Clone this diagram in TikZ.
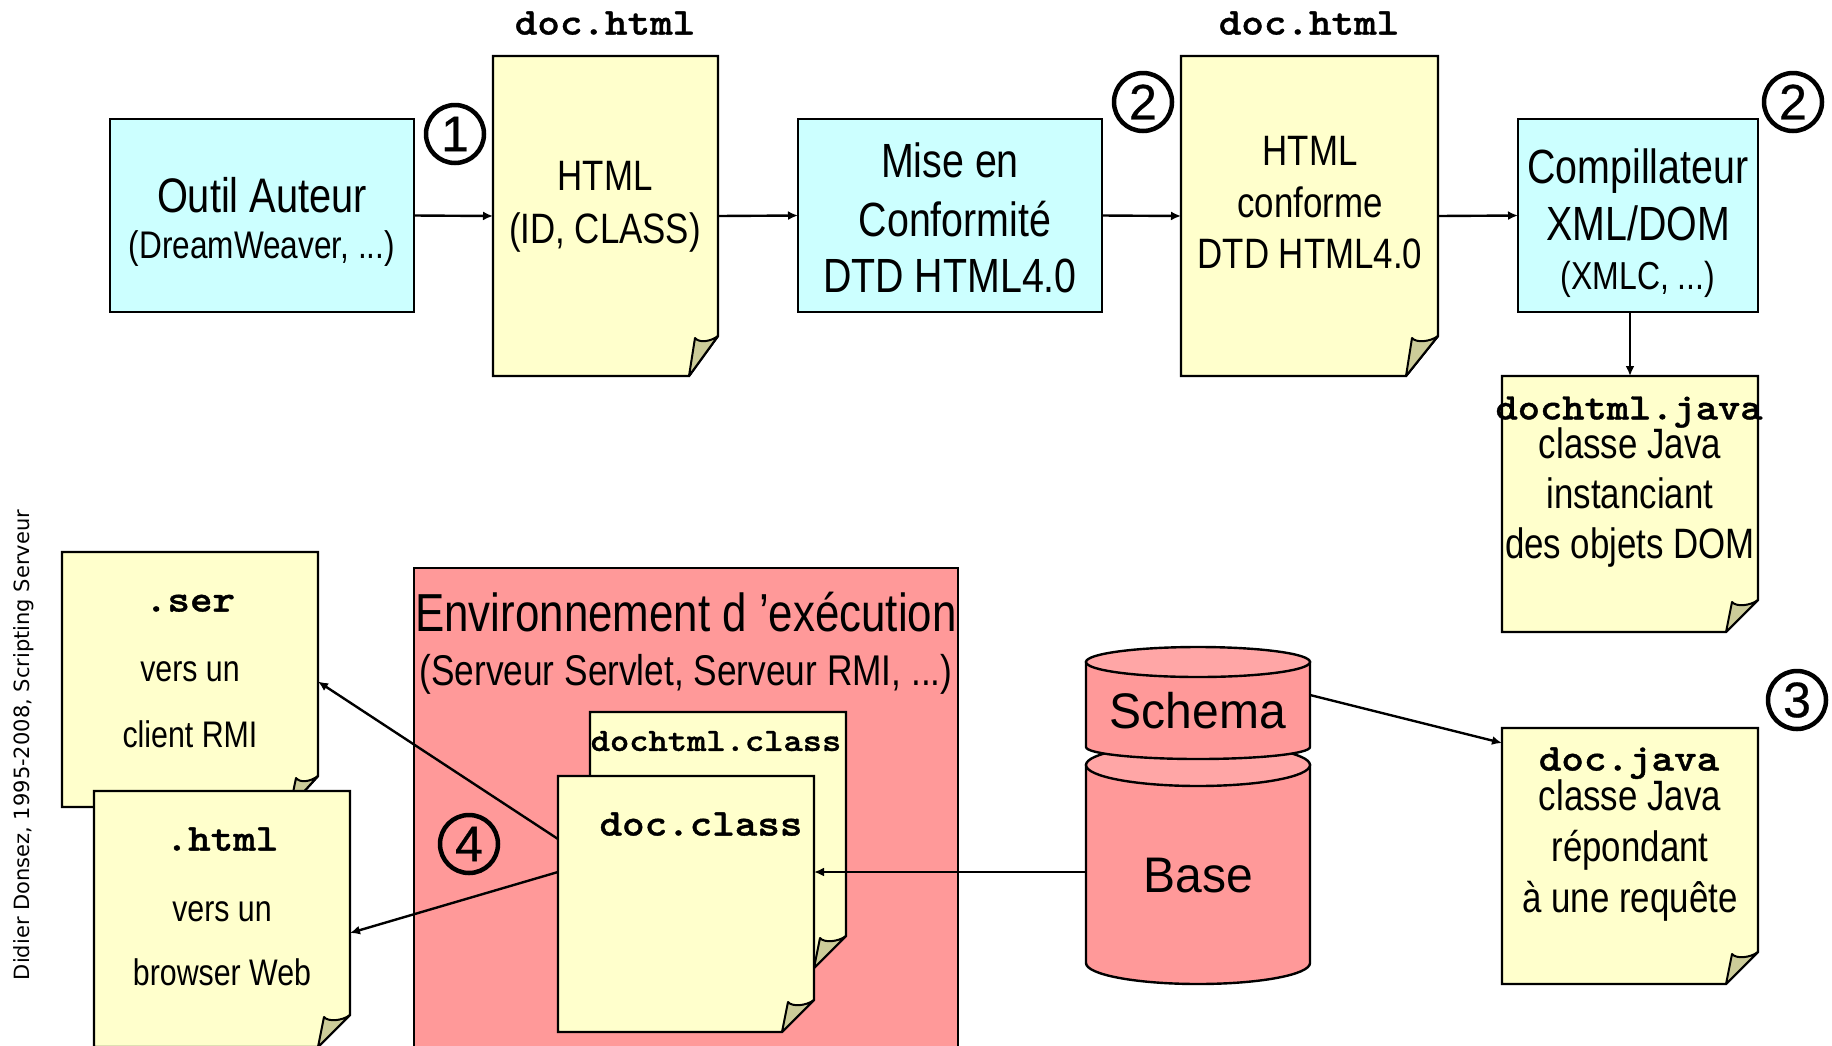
\documentclass[tikz,border=0pt]{standalone}
\usepackage{fontspec}
\setmainfont{Liberation Sans}
\newfontfamily\cf[FakeStretch=0.82]{Liberation Sans}
\newfontfamily\wf[FakeStretch=0.96]{Liberation Sans}
\newfontfamily\nf[FakeBold=0.6]{Liberation Sans}
\newfontfamily\vf{DejaVu Sans}
\newfontfamily\mf[FakeStretch=1.13,FakeBold=1]{Latin Modern Mono Light}
\usetikzlibrary{arrows.meta,fit}
\definecolor{cyanbox}{HTML}{CCFFFF}
\definecolor{yelbox}{HTML}{FFFFCC}
\definecolor{redbox}{HTML}{FF9999}
\definecolor{redtop}{HTML}{FFA6A6}
\definecolor{foldc}{HTML}{CCCC99}
\tikzset{
  outl/.style={draw=black,line width=2.4pt,line join=miter},
  anchorbox/.style={inner sep=0pt,outer sep=0pt},
  arr/.style={draw=black,line width=2.4pt,-{Latex[length=10pt,width=9pt]}},
  lab/.style={inner sep=0pt,outer sep=0pt,anchor=center,align=center},
  num/.style={circle,draw=black,line width=4.5pt,inner sep=0pt,minimum size=58pt,outer sep=0pt}
}
\newcommand{\cbox}[6]{% name x1 y1 x2 y2 color
  \path[outl,fill=#6] (#2,#3) rectangle (#4,#5);
  \node[anchorbox,fit={(#2,#3) (#4,#5)}] (#1) {};}
\newcommand{\docn}[7]{% name x1 y1 x2 y2 fw fh
  \path[outl,fill=yelbox] (#2,#3) -- (#4,#3) -- (#4,#5-#7) -- (#4-#6,#5) -- (#2,#5) -- cycle;
  \path[outl,line width=2pt,line join=round,fill=foldc] (#4-#6,#5) -- (#4-#6+6,#5-#7+2)
     .. controls (#4-#6+10,#5-#7+7) and (#4-8,#5-#7+6) .. (#4,#5-#7) -- cycle;
  \node[anchorbox,fit={(#2,#3) (#4,#5)}] (#1) {};}
\newcommand{\lbl}[5]{% name x y size text
  \node[lab,yshift={-0.09*#4 pt}] (#1) at (#2,#3) {\fontsize{#4}{#4}\selectfont\cf\vphantom{(Ag}#5};}
\newcommand{\slbl}[5]{% name x y size text
  \node[lab,yshift={-0.1*#4 pt}] (#1) at (#2,#3) {\fontsize{#4}{#4}\selectfont\wf\vphantom{(Ag}#5};}
\newcommand{\mlbl}[5]{% name x y size text
  \node[lab,yshift={-0.07*#4 pt}] (#1) at (#2,#3) {\fontsize{#4}{#4}\selectfont\mf\bfseries\vphantom{(Ag}#5};}
\newcommand{\cyl}[7]{% name x1 x2 ytop ybot rytop rybot
  \path[outl,fill=redbox] (#2,#4) -- (#2,#5-#7) arc[start angle=180,end angle=360,x radius={(#3-#2)/2},y radius=-#7] -- (#3,#4) -- cycle;
  \path[outl,fill=redtop] ({(#2+#3)/2},#4) ellipse[x radius={(#3-#2)/2},y radius=#6];
}
\begin{document}
\begin{tikzpicture}[x=1pt,y=-1pt]
\useasboundingbox (0,0) rectangle (1832,1045);
\clip (0,0) rectangle (1832,1045);
% top row
\cbox{outil}{110}{119}{414}{312}{cyanbox}
\docn{html}{493}{56}{718}{376}{29}{40}
\cbox{mise}{798}{119}{1102}{312}{cyanbox}
\docn{conf}{1181}{56}{1438}{376}{32}{40}
\cbox{compil}{1518}{119}{1758}{312}{cyanbox}
\docn{dochtmljava}{1502}{376}{1758}{632}{32}{32}
\docn{docjava}{1502}{728}{1758}{984}{32}{32}
% lower left
\docn{ser}{62}{552}{318}{807}{28}{31}
\docn{htmlout}{94}{791}{350}{1047}{32}{32}
% environment
\cbox{env}{414}{568}{958}{1070}{redbox}
\docn{dochtmlclass}{590}{712}{846}{968}{32}{32}
\docn{docclass}{558}{776}{814}{1032}{32}{32}
% cylinders
\cyl{base}{1086}{1310}{765}{984}{21}{21}
\node[anchorbox,fit={(1086,760) (1310,984)}] (basen) {};
\cyl{schema}{1086}{1310}{662}{759}{15}{12}
\node[anchorbox,fit={(1086,647) (1310,759)}] (schemn) {};
% connectors
\draw[arr] (outil.east) -- (html.west);
\draw[arr] (html.east) -- (mise.west);
\draw[arr] (mise.east) -- (conf.west);
\draw[arr] (conf.east) -- (compil.west);
\draw[arr] (dochtmljava.north |- compil.south) -- (dochtmljava.north);
\draw[arr] (basen.west) -- (docclass.east |- basen.west);
\draw[arr] ([yshift=8pt]schemn.east) -- ([xshift=0pt,yshift=-15pt]docjava.north west);
\draw[arr] ([yshift=65pt]docclass.west) -- ([yshift=-2pt]ser.east);
\draw[arr] ([yshift=32pt]docclass.west) -- ([yshift=-14pt]htmlout.east);
% labels
\lbl{t1}{262}{196}{48.5}{Outil Auteur}
\lbl{t2}{262}{245}{38.5}{(DreamWeaver, ...)}
\mlbl{m1}{605}{23}{38}{doc.html}
\mlbl{m2}{1309}{23}{38}{doc.html}
\lbl{t3}{605}{176}{42.5}{HTML}
\lbl{t4}{605}{229}{42.5}{(ID, CLASS)}
\lbl{t5}{950}{161}{48}{Mise en}
\lbl{t6}{955}{219}{48}{Conformité}
\lbl{t7}{950}{276}{48}{DTD HTML4.0}
\lbl{t8}{1310}{151}{42.5}{HTML}
\lbl{t9}{1310}{203}{42.5}{conforme}
\lbl{t10}{1310}{254}{42.5}{DTD HTML4.0}
\lbl{t11}{1638}{167}{48}{Compillateur}
\lbl{t12}{1638}{224}{48}{XML/DOM}
\lbl{t13}{1638}{276}{39}{(XMLC, ...)}
\mlbl{m3}{1629}{408}{37.5}{dochtml.java}
\lbl{t14}{1630}{444}{42.5}{classe Java}
\lbl{t15}{1630}{494}{42.5}{instanciant}
\lbl{t16}{1630}{544}{42.5}{des objets DOM}
\mlbl{m4}{1629}{759}{38}{doc.java}
\lbl{t17}{1630}{796}{42.5}{classe Java}
\lbl{t18}{1630}{846}{42.5}{répondant}
\lbl{t19}{1630}{897}{42.5}{à une requête}
\lbl{t20}{686}{613}{53.5}{Environnement d ’exécution}
\lbl{t21}{686}{671}{43}{(Serveur Servlet, Serveur RMI, ...)}
\mlbl{m5}{716}{741}{32.5}{dochtml.class}
\mlbl{m6}{701}{824}{38}{doc.class}
\mlbl{m7}{190}{600}{38}{.ser}
\lbl{t22}{190}{669}{37}{vers un}
\lbl{t23}{190}{735}{37}{client RMI}
\mlbl{m8}{222}{839}{38}{.html}
\lbl{t24}{222}{909}{37}{vers un}
\lbl{t25}{222}{973}{37}{browser Web}
\slbl{t26}{1198}{711}{50}{Schema}
\slbl{t27}{1198}{875}{50}{Base}
% numbers
\foreach \nm/\px/\py/\dg in {n1/455/134/1,n2/1143/102/2,n3/1793/102/2,n4/1797/700/3,n5/469/844/4}
  \node[num] (\nm) at (\px,\py) {\fontsize{50}{50}\selectfont\nf\dg};
% credit
\node[lab,rotate=90] (credit) at (24,745) {\fontsize{21}{21}\selectfont\vf\vphantom{(Ag}Didier Donsez, 1995-2008, Scripting Serveur};
\end{tikzpicture}
\end{document}
